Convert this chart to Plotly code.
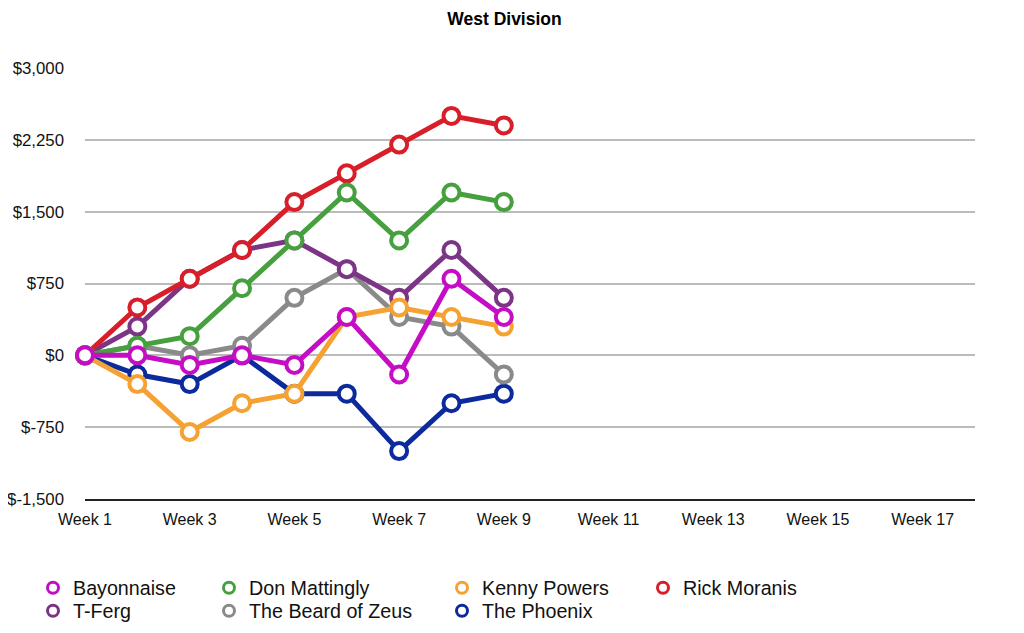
import plotly.graph_objects as go

weeks = [f"Week {i}" for i in range(1, 19)]
played = weeks[:9]

bayonnaise = [0, 0, -100, 0, -100, 400, -200, 800, 400]
don_mattingly = [0, 100, 200, 700, 1200, 1700, 1200, 1700, 1600]
kenny_powers = [0, -300, -800, -500, -400, 400, 500, 400, 300]
rick_moranis = [0, 500, 800, 1100, 1600, 1900, 2200, 2500, 2400]
t_ferg = [0, 300, 800, 1100, 1200, 900, 600, 1100, 600]
beard_of_zeus = [0, 100, 0, 100, 600, 900, 400, 300, -200]
the_phoenix = [0, -200, -300, 0, -400, -400, -1000, -500, -400]

y_ticks = [-1500, -750, 0, 750, 1500, 2250, 3000]
y_labels = ["$-1,500", "$-750", "$0", "$750", "$1,500", "$2,250", "$3,000"]
x_ticks = weeks[0::2]

series = {
    "Bayonnaise": (bayonnaise, "#C40DC4"),
    "Don Mattingly": (don_mattingly, "#45A03D"),
    "Kenny Powers": (kenny_powers, "#F5A232"),
    "Rick Moranis": (rick_moranis, "#D81F29"),
    "T-Ferg": (t_ferg, "#7C3586"),
    "The Beard of Zeus": (beard_of_zeus, "#8A8A8A"),
    "The Phoenix": (the_phoenix, "#0C2A9C"),
}

draw_order = ["The Phoenix", "The Beard of Zeus", "T-Ferg", "Rick Moranis",
              "Kenny Powers", "Don Mattingly", "Bayonnaise"]

fig = go.Figure()
for name in draw_order:
    vals, col = series[name]
    fig.add_trace(go.Scatter(
        x=played, y=vals, name=name, mode="lines+markers",
        line=dict(color=col, width=5),
        marker=dict(symbol="circle", size=16, color="white",
                    line=dict(color=col, width=4)),
        cliponaxis=False, showlegend=False, hoverinfo="x+y+name",
    ))

# legend layout: columns and rows (figure pixel coords)
legend_pos = {
    "Bayonnaise": (25, 580), "T-Ferg": (25, 603),
    "Don Mattingly": (201, 580), "The Beard of Zeus": (201, 603),
    "Kenny Powers": (434, 580), "The Phoenix": (434, 603),
    "Rick Moranis": (635, 580),
}
W, H = 1024, 633
legends = {}
for i, (name, (px, py)) in enumerate(legend_pos.items()):
    key = "legend" if i == 0 else f"legend{i+1}"
    vals, col = series[name]
    fig.add_trace(go.Scatter(
        x=[None], y=[None], name=name, mode="markers",
        marker=dict(symbol="circle", size=11, color="white",
                    line=dict(color=col, width=3)),
        showlegend=True, legend=key, hoverinfo="skip",
    ))
    legends[key] = dict(
        x=px / W, y=1 - py / H, xref="container", yref="container",
        xanchor="left", yanchor="middle", bgcolor="rgba(0,0,0,0)",
        itemclick=False, itemdoubleclick=False,
        font=dict(family="Liberation Sans, Arial, sans-serif", size=19.7, color="#111"),
    )

fig.update_layout(
    width=W, height=H,
    margin=dict(l=77, r=57, t=60, b=142, autoexpand=False),
    paper_bgcolor="white", plot_bgcolor="white",
    title=dict(text="<b>West Division</b>", x=496.5 / W, y=1 - 11 / H,
               xref="container", yref="container", xanchor="center", yanchor="middle",
               font=dict(family="Liberation Sans, Arial, sans-serif", size=17.5, color="#000")),
    xaxis=dict(
        type="category", categoryorder="array", categoryarray=weeks,
        range=[0, 17], tickvals=x_ticks, ticktext=x_ticks,
        showgrid=False, zeroline=False, showline=True, linecolor="#222", linewidth=2,
        ticks="", ticklabelstandoff=5,
        tickfont=dict(family="Liberation Sans, Arial, sans-serif", size=16, color="#111"),
    ),
    yaxis=dict(
        range=[-1500, 3000], tickvals=y_ticks, ticktext=y_labels,
        showgrid=True, gridcolor="#BBBBBB", gridwidth=1.5,
        zeroline=True, zerolinecolor="#BBBBBB", zerolinewidth=1.5,
        showline=False, ticks="", ticklabelstandoff=20,
        tickfont=dict(family="Liberation Sans, Arial, sans-serif", size=16.8, color="#111"),
    ),
    showlegend=True,
    **legends,
)

fig.write_html("out.html")
